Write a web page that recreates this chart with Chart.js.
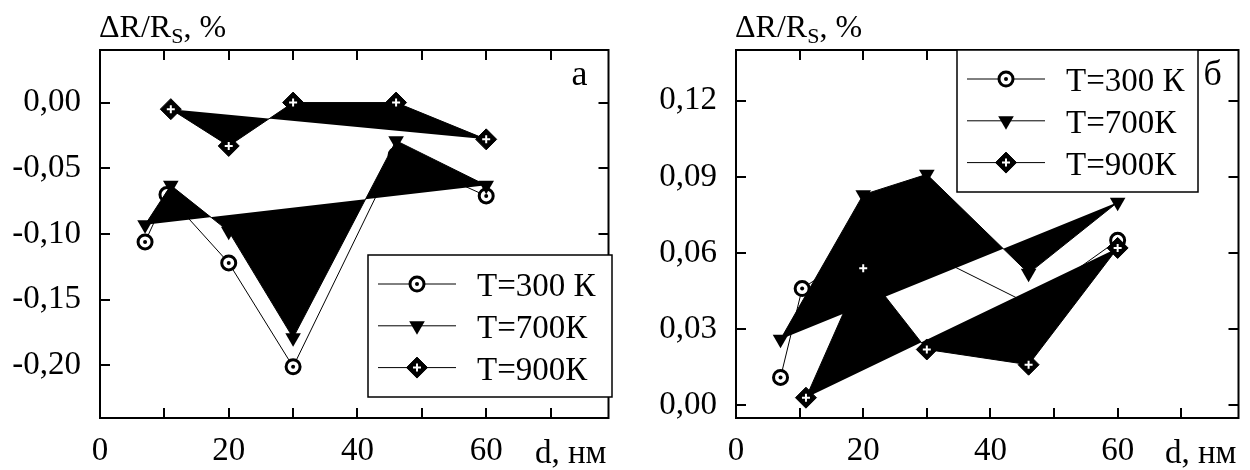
<!DOCTYPE html>
<html>
<head>
<meta charset="utf-8">
<script src="https://cdn.jsdelivr.net/npm/chart.js@4.4.1/dist/chart.umd.min.js"></script>
<style>
  html, body { margin: 0; padding: 0; background: #fff; }
  #wrap { position: relative; width: 1250px; height: 470px; }
  #panelA { position: absolute; left: 0; top: 0; }
  #panelB { position: absolute; left: 620px; top: 0; }
</style>
</head>
<body>
<div id="wrap">
  <canvas id="panelA" width="620" height="470"></canvas>
  <canvas id="panelB" width="630" height="470"></canvas>
</div>
<script>
// толщина плёнки d, нм и изменение сопротивления, %
const dA300 = [7, 10.4, 20, 30, 46, 60];
const rA300 = [-0.106, -0.070, -0.122, -0.201, -0.040, -0.071];
const dA700 = [7, 11, 20, 30, 46, 60];
const rA700 = [-0.093, -0.063, -0.098, -0.179, -0.029, -0.063];
const dA900 = [11, 20, 30, 46, 60];
const rA900 = [-0.005, -0.033, 0.000, 0.000, -0.028];

const dB300 = [7, 10.4, 20, 30, 46, 60];
const rB300 = [0.011, 0.046, 0.062, 0.060, 0.040, 0.065];
const dB700 = [7, 20, 30, 46, 60];
const rB700 = [0.026, 0.083, 0.091, 0.052, 0.080];
const dB900 = [11, 20, 30, 46, 60];
const rB900 = [0.003, 0.054, 0.022, 0.016, 0.062];

const dTicks = [0, 10, 20, 30, 40, 50, 60, 70];
const dLabels = [0, 20, 40, 60];
const yTicksA = [-0.20, -0.15, -0.10, -0.05, 0.00];
const yTicksB = [0.00, 0.03, 0.06, 0.09, 0.12];
const legendLabels = ['T=300 К', 'T=700К', 'T=900К'];

const SERIF = "'Liberation Serif', 'Times New Roman', serif";
Chart.defaults.font.family = SERIF;
Chart.defaults.color = '#000';

const TICK = 10;

// маркеры серий
const mark300 = { pointStyle: 'circle', radius: 7, borderWidth: 3 };
const dot300 = { pointStyle: 'circle', radius: 2 };
const mark700 = { pointStyle: 'triangle', rotation: 180, radius: 9, borderWidth: 0 };
const mark900 = { pointStyle: 'rectRot', radius: 10.5, borderWidth: 1 };
const cross900 = { pointStyle: 'cross', radius: 4, borderWidth: 2 };

function pts(d, r) {
  return d.map((x, i) => ({ x, y: r[i] }));
}

function seriesSets(d300, r300, d700, r700, d900, r900) {
  return [
    {
      data: pts(d300, r300), showLine: true, borderColor: '#000', borderWidth: 1,
      pointStyle: 'circle', pointRadius: mark300.radius, pointBorderWidth: mark300.borderWidth,
      pointBackgroundColor: '#fff', pointBorderColor: '#000', order: 5
    },
    { // точка в центре кружка
      data: pts(d300, r300), showLine: false,
      pointStyle: 'circle', pointRadius: dot300.radius, pointBorderWidth: 0,
      pointBackgroundColor: '#000', order: 4
    },
    {
      data: pts(d700, r700), showLine: true, borderColor: '#000', borderWidth: 1, closedFill: '#000',
      pointStyle: 'triangle', pointRotation: 180, pointRadius: mark700.radius, pointBorderWidth: 0,
      pointBackgroundColor: '#000', order: 3
    },
    {
      data: pts(d900, r900), showLine: true, borderColor: '#000', borderWidth: 1, closedFill: '#000',
      pointStyle: 'rectRot', pointRadius: mark900.radius, pointBorderWidth: mark900.borderWidth,
      pointBackgroundColor: '#000', pointBorderColor: '#000', order: 2
    },
    { // белый крестик внутри ромба
      data: pts(d900, r900), showLine: false,
      pointStyle: 'cross', pointRadius: cross900.radius, pointBorderWidth: cross900.borderWidth,
      pointBorderColor: '#fff', order: 1
    }
  ];
}

// замкнутая заливка ломаной (последняя точка соединяется с первой)
const polygonFill = {
  id: 'polygonFill',
  beforeDatasetDraw(chart, args) {
    const ds = chart.data.datasets[args.index];
    if (!ds.closedFill) return;
    const p = args.meta.data;
    const ctx = chart.ctx;
    ctx.save();
    ctx.beginPath();
    p.forEach((el, i) => (i ? ctx.lineTo(el.x, el.y) : ctx.moveTo(el.x, el.y)));
    ctx.closePath();
    ctx.fillStyle = ds.closedFill;
    ctx.fill();
    ctx.restore();
  }
};

function drawMarker(ctx, x, y, m, fill, stroke, lw) {
  ctx.fillStyle = fill;
  ctx.strokeStyle = stroke;
  ctx.lineWidth = lw;
  Chart.helpers.drawPoint(ctx, { pointStyle: m.pointStyle, rotation: m.rotation || 0, radius: m.radius, borderWidth: lw }, x, y);
}

// рамка, внутренние засечки, легенда и подписи
const decor = {
  id: 'decor',
  afterDatasetsDraw(chart, args, opts) {
    const { ctx, chartArea: a, scales: { x, y } } = chart;
    ctx.save();

    ctx.strokeStyle = '#000';
    ctx.lineWidth = 2;
    ctx.strokeRect(a.left, a.top, a.right - a.left, a.bottom - a.top);
    ctx.beginPath();
    x.ticks.forEach(t => {
      const px = Math.round(x.getPixelForValue(t.value));
      ctx.moveTo(px, a.bottom); ctx.lineTo(px, a.bottom - TICK);
      ctx.moveTo(px, a.top); ctx.lineTo(px, a.top + TICK);
    });
    y.ticks.forEach(t => {
      const py = Math.round(y.getPixelForValue(t.value));
      ctx.moveTo(a.left, py); ctx.lineTo(a.left + TICK, py);
      ctx.moveTo(a.right, py); ctx.lineTo(a.right - TICK, py);
    });
    ctx.stroke();

    // легенда
    const b = opts.box;
    ctx.fillStyle = '#fff';
    ctx.fillRect(b.left, b.top, b.right - b.left, b.bottom - b.top);
    ctx.lineWidth = 1.5;
    ctx.strokeRect(b.left, b.top, b.right - b.left, b.bottom - b.top);
    legendLabels.forEach((lab, i) => {
      const ry = b.top + 29 + i * 41.8;
      ctx.strokeStyle = '#000';
      ctx.lineWidth = 1;
      ctx.beginPath();
      ctx.moveTo(b.left + 10, ry); ctx.lineTo(b.left + 88, ry);
      ctx.stroke();
      const mx = b.left + 49;
      if (i === 0) {
        drawMarker(ctx, mx, ry, mark300, '#fff', '#000', mark300.borderWidth);
        drawMarker(ctx, mx, ry, dot300, '#000', '#000', 0);
      } else if (i === 1) {
        drawMarker(ctx, mx, ry, mark700, '#000', '#000', 0);
      } else {
        drawMarker(ctx, mx, ry, mark900, '#000', '#000', mark900.borderWidth);
        drawMarker(ctx, mx, ry, cross900, '#fff', '#fff', cross900.borderWidth);
      }
      ctx.fillStyle = '#000';
      ctx.font = '33px ' + SERIF;
      ctx.textAlign = 'left';
      ctx.textBaseline = 'alphabetic';
      ctx.fillText(lab, b.left + 109, ry + 12);
    });

    // подпись оси Y
    ctx.fillStyle = '#000';
    ctx.textAlign = 'left';
    ctx.textBaseline = 'alphabetic';
    let tx = a.left - 1;
    ctx.font = '32px ' + SERIF;
    ctx.fillText('ΔR/R', tx, 37);
    tx += ctx.measureText('ΔR/R').width;
    ctx.font = '22px ' + SERIF;
    ctx.fillText('S', tx, 43);
    tx += ctx.measureText('S').width;
    ctx.font = '32px ' + SERIF;
    ctx.fillText(', %', tx, 37);

    // подпись оси X
    ctx.font = '33px ' + SERIF;
    ctx.textAlign = 'right';
    ctx.fillText('d, нм', a.right - 2, 463);

    // буква панели
    ctx.font = '36px ' + SERIF;
    ctx.textAlign = 'left';
    ctx.fillText(opts.letter, a.right - opts.letterOffset, 85);

    ctx.restore();
  }
};

function fmtY(v) {
  return v.toFixed(2).replace('.', ',');
}

function panelOptions(yMin, yMax, yTicks, yWidth, padRight, decorOpts) {
  return {
    responsive: false,
    animation: false,
    events: [],
    layout: { padding: { top: 50, right: padRight, left: 0, bottom: 0 } },
    plugins: {
      legend: { display: false },
      tooltip: { enabled: false },
      decor: decorOpts
    },
    scales: {
      x: {
        type: 'linear', position: 'bottom', min: 0, max: 79,
        afterBuildTicks: s => { s.ticks = dTicks.map(v => ({ value: v })); },
        afterFit: s => { s.height = 52; },
        grid: { display: false, drawTicks: false },
        border: { display: false },
        ticks: {
          padding: 14, autoSkip: false, maxRotation: 0, color: '#000',
          font: { size: 33 },
          callback: v => (dLabels.includes(v) ? String(v) : '')
        }
      },
      y: {
        type: 'linear', min: yMin, max: yMax,
        afterBuildTicks: s => { s.ticks = yTicks.map(v => ({ value: v })); },
        afterFit: s => { s.width = yWidth; },
        grid: { display: false, drawTicks: false },
        border: { display: false },
        ticks: {
          padding: 19, autoSkip: false, color: '#000',
          font: { size: 33 },
          callback: v => fmtY(v)
        }
      }
    }
  };
}

new Chart(document.getElementById('panelA'), {
  type: 'scatter',
  data: { datasets: seriesSets(dA300, rA300, dA700, rA700, dA900, rA900) },
  options: panelOptions(-0.24, 0.04, yTicksA, 100, 8,
    { box: { left: 368, right: 612, top: 255, bottom: 397 }, letter: 'а', letterOffset: 37 }),
  plugins: [polygonFill, decor]
});

new Chart(document.getElementById('panelB'), {
  type: 'scatter',
  data: { datasets: seriesSets(dB300, rB300, dB700, rB700, dB900, rB900) },
  options: panelOptions(-0.005, 0.14, yTicksB, 116, 4,
    { box: { left: 337, right: 578, top: 50, bottom: 192 }, letter: 'б', letterOffset: 35 }),
  plugins: [polygonFill, decor]
});
</script>
</body>
</html>
